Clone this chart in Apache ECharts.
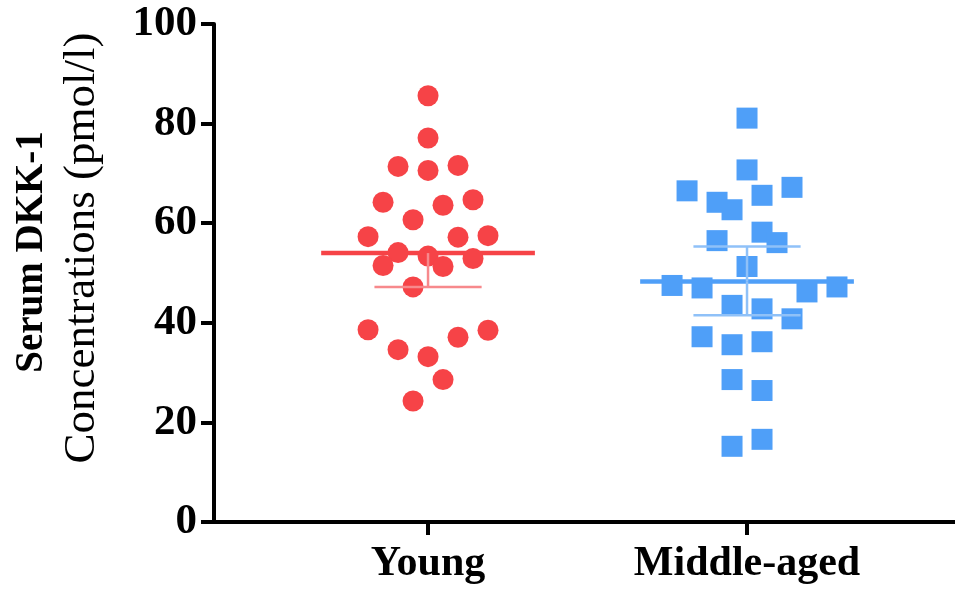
<!DOCTYPE html>
<html>
<head>
<meta charset="utf-8">
<script src="https://cdn.jsdelivr.net/npm/echarts@6/dist/echarts.min.js"></script>
<style>
  html, body { margin: 0; padding: 0; background: #fff; }
  #chart { width: 955px; height: 594px; }
</style>
</head>
<body>
<div id="chart"></div>
<script>
// groups and their positions on the x axis
const categories = ['Young', 'Middle-aged'];
const categoryPos = [1, 2];

// scatter points: horizontal slot (dot widths) and value
const youngSlots = [0, 0, -2, 0, 2, -3, 1, 3, -1, -4, 2, 4, -2, 0, 3, -3, 1, -1, -4, 4, -2, 2, 0, 1, -1];
const youngValues = [85.6, 77.1, 71.4, 70.6, 71.6, 64.2, 63.6, 64.7, 60.7, 57.3, 57.2, 57.5, 54.1, 53.4, 52.9, 51.5, 51.3, 47.2, 38.6, 38.5, 34.6, 37.1, 33.2, 28.6, 24.3];

const middleSlots = [0, 0, -4, 3, -2, -1, 1, -2, 1, 2, 0, -5, -3, 4, 6, -1, 1, 3, -3, -1, 1, -1, 1, -1, 1];
const middleValues = [81.1, 70.7, 66.5, 67.2, 64.2, 62.7, 65.6, 56.5, 58.2, 56.1, 51.3, 47.5, 47.0, 46.2, 47.2, 43.5, 42.8, 40.8, 37.2, 35.6, 36.2, 28.6, 26.4, 15.2, 16.6];

// mean and error bar ends (Young shows only the lower bar)
const means = [54.0, 48.3];
const lowerErr = [47.2, 41.5];
const upperErr = [null, 55.3];

const yTicks = [0, 20, 40, 60, 80, 100];

const slotWidth = 0.047;
const meanHalf = 0.335;
const capHalf = 0.168;

function toPoints(center, slots, values) {
  return values.map((v, i) => [center + slots[i] * slotWidth, v]);
}

const chart = echarts.init(document.getElementById('chart'));

const serif = 'Liberation Serif';

function errorBar(color, light, meanWidth) {
  return function (params, api) {
    const c = api.value(0);
    const m = api.value(1);
    const lo = api.value(2);
    const hi = api.value(3);
    const children = [];
    const p1 = api.coord([c - meanHalf, m]);
    const p2 = api.coord([c + meanHalf, m]);
    children.push({
      type: 'line',
      shape: { x1: p1[0], y1: p1[1], x2: p2[0], y2: p2[1] },
      style: { stroke: color, lineWidth: meanWidth }
    });
    [lo, hi].forEach(function (e) {
      if (e == null || isNaN(e)) return;
      const a = api.coord([c, m]);
      const b = api.coord([c, e]);
      const l = api.coord([c - capHalf, e]);
      const r = api.coord([c + capHalf, e]);
      children.push({
        type: 'line',
        shape: { x1: a[0], y1: a[1], x2: b[0], y2: b[1] },
        style: { stroke: light, lineWidth: 2.5 }
      });
      children.push({
        type: 'line',
        shape: { x1: l[0], y1: l[1], x2: r[0], y2: r[1] },
        style: { stroke: light, lineWidth: 2.5 }
      });
    });
    return { type: 'group', children: children };
  };
}

const option = {
  backgroundColor: '#fff',
  animation: false,
  grid: { left: 214, right: 0, top: 24, bottom: 72, outerBoundsMode: 'none', containLabel: false },
  xAxis: {
    type: 'value',
    min: 0.329,
    max: 2.652,
    splitLine: { show: false },
    axisLine: { onZero: false, lineStyle: { color: '#000', width: 4 } },
    axisTick: { customValues: categoryPos, length: 13, lineStyle: { color: '#000', width: 4 } },
    axisLabel: {
      customValues: categoryPos,
      formatter: function (v) { return categories[categoryPos.indexOf(v)]; },
      color: '#000',
      fontFamily: serif,
      fontWeight: 'bold',
      fontSize: 42,
      margin: 21
    }
  },
  yAxis: [
    {
      type: 'value',
      min: yTicks[0],
      max: yTicks[yTicks.length - 1],
      interval: 20,
      splitLine: { show: false },
      axisLine: { show: true, onZero: false, lineStyle: { color: '#000', width: 4 } },
      axisTick: { show: true, length: 13, lineStyle: { color: '#000', width: 4 } },
      axisLabel: {
        color: '#000',
        fontFamily: serif,
        fontWeight: 'bold',
        fontSize: 43,
        margin: 17
      },
      name: 'Concentrations (pmol/l)',
      nameLocation: 'middle',
      nameRotate: 90,
      nameGap: 108,
      nameTextStyle: {
        color: '#000',
        fontFamily: serif,
        fontSize: 45,
        lineHeight: 48,
        padding: [0, 0, 0, 50]
      }
    },
    {
      type: 'value',
      position: 'left',
      min: yTicks[0],
      max: yTicks[yTicks.length - 1],
      interval: 20,
      splitLine: { show: false },
      axisLine: { show: false },
      axisTick: { show: false },
      axisLabel: { show: false },
      name: 'Serum DKK-1',
      nameLocation: 'middle',
      nameRotate: 90,
      nameGap: 158,
      nameTextStyle: {
        color: '#000',
        fontFamily: serif,
        fontWeight: 'bold',
        fontSize: 39,
        lineHeight: 48,
        padding: [0, 0, 0, 42]
      }
    }
  ],
  series: [
    {
      type: 'scatter',
      symbol: 'circle',
      symbolSize: 21,
      itemStyle: { color: '#f64347', opacity: 1 },
      data: toPoints(categoryPos[0], youngSlots, youngValues),
      z: 2
    },
    {
      type: 'scatter',
      symbol: 'rect',
      symbolSize: 21,
      itemStyle: { color: '#4f9ff8', opacity: 1 },
      data: toPoints(categoryPos[1], middleSlots, middleValues),
      z: 2
    },
    {
      type: 'custom',
      renderItem: errorBar('#f64347', '#f7898c', 4.5),
      data: [[categoryPos[0], means[0], lowerErr[0], upperErr[0] == null ? NaN : upperErr[0]]],
      z: 3
    },
    {
      type: 'custom',
      renderItem: errorBar('#4f9ff8', '#8fc1f8', 4.5),
      data: [[categoryPos[1], means[1], lowerErr[1], upperErr[1] == null ? NaN : upperErr[1]]],
      z: 3
    }
  ]
};

chart.setOption(option);
</script>
</body>
</html>
